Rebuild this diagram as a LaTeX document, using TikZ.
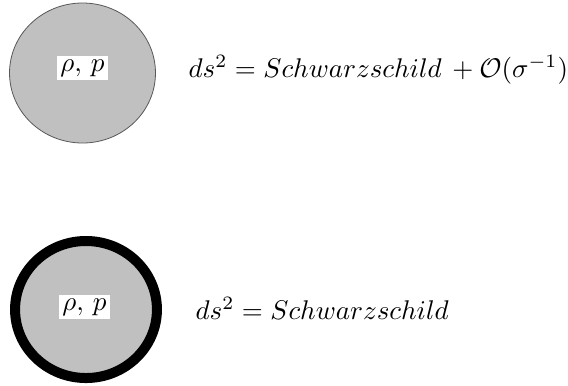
\documentclass[tikz,border=0pt]{standalone}
\usepackage{amsmath}
\usetikzlibrary{shapes.geometric}
\definecolor{bodygray}{RGB}{192,192,192}
\begin{document}
\begin{tikzpicture}[x=0.37pt, y=0.37pt,
    body/.style={draw, ellipse, fill=bodygray, inner sep=0pt},
    fluid/.style={fill=white, inner sep=0pt, minimum width=18.9pt, minimum height=8.9pt}]
    \useasboundingbox (0,0) rectangle (568,385);

    \node[body, draw=gray!70!black, line width=0.3pt, minimum width=54pt, minimum height=51.8pt] (s1) at (82.5,312) {};
    \node[fluid] (l1) at (82.5,317) {$\rho,\,p$};
    \node[anchor=base west, inner sep=0pt] (e1) at (188,308) {$ds^2 = Schwarzschild\,+\mathcal{O}(\sigma^{-1})$};

    \node[body, draw=black, line width=3.7pt, minimum width=52.5pt, minimum height=50.7pt] (s2) at (86,75.5) {};
    \node[fluid] (l2) at (84.5,78) {$\rho,\,p$};
    \node[anchor=base west, inner sep=0pt] (e2) at (195,66) {$ds^2 = Schwarzschild$};
\end{tikzpicture}
\end{document}
